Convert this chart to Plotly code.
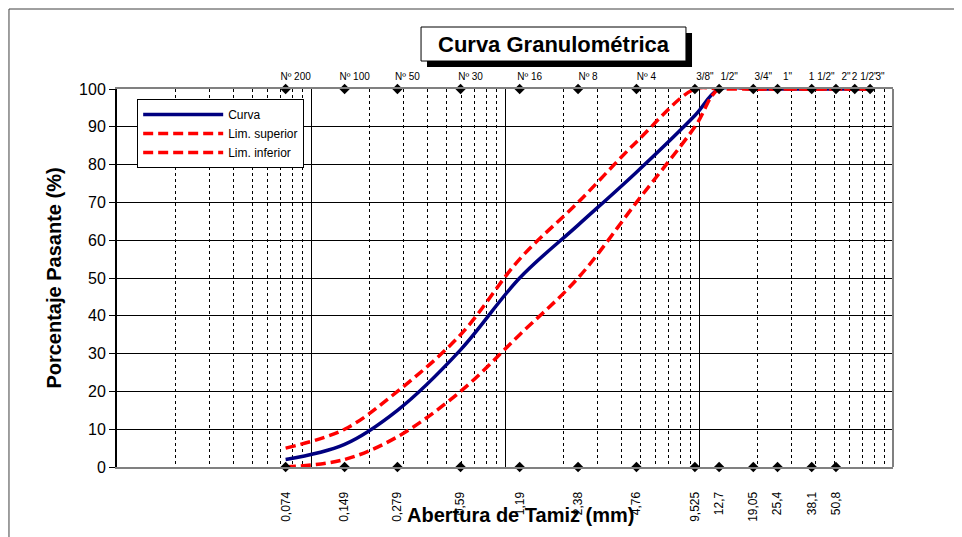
import plotly.graph_objects as go

# Tamices (abertura en mm) y porcentaje que pasa
aberturas = [0.074, 0.149, 0.279, 0.59, 1.19, 2.38, 4.76, 9.525, 12.7, 19.05, 25.4, 38.1, 50.8, 63.5, 76.2]
curva = [2, 6, 15, 31, 50, 64, 78, 93, 100, 100, 100, 100, 100, 100, 100]
lim_superior = [5, 10, 20, 35, 55, 70, 86, 100, 100, 100, 100, 100, 100, 100, 100]
lim_inferior = [0, 2, 8, 20, 35, 50, 70, 90, 100, 100, 100, 100, 100, 100, 100]

# etiquetas de los ejes
tamices_sup = ['Nº 200', 'Nº 100', 'Nº 50', 'Nº 30', 'Nº 16', 'Nº 8', 'Nº 4',
               '3/8"', '1/2"', '3/4"', '1"', '1 1/2"', '2"', '2 1/2"', '3"']
aberturas_inf = aberturas[:13]
etiquetas_inf = ['0,074', '0,149', '0,279', '0,59', '1,19', '2,38', '4,76',
                 '9,525', '12,7', '19,05', '25,4', '38,1', '50,8']
rejilla_menor = [m * 10 ** e for e in (-2, -1, 0, 1) for m in range(2, 10)]

FONT = 'Liberation Sans, Arial, sans-serif'
DASH = '10px,5px'

fig = go.Figure()

fig.add_trace(go.Scatter(x=aberturas, y=curva, name='Curva', mode='lines',
                         line=dict(color='#000080', width=3.5, shape='spline', smoothing=1)))
fig.add_trace(go.Scatter(x=aberturas, y=lim_superior, name='Lim. superior', mode='lines',
                         line=dict(color='#ff0000', width=3.5, dash=DASH, shape='spline', smoothing=1)))
fig.add_trace(go.Scatter(x=aberturas, y=lim_inferior, name='Lim. inferior', mode='lines',
                         line=dict(color='#ff0000', width=3.5, dash=DASH, shape='spline', smoothing=1)))

# rombos sobre los ejes
fig.add_trace(go.Scatter(x=aberturas_inf, y=[0] * len(aberturas_inf), mode='markers',
                         marker=dict(symbol='diamond', size=8, color='black'),
                         cliponaxis=False, showlegend=False, hoverinfo='skip'))
fig.add_trace(go.Scatter(x=aberturas, y=[100] * len(aberturas), mode='markers',
                         marker=dict(symbol='diamond', size=8, color='black'),
                         xaxis='x2', cliponaxis=False, showlegend=False, hoverinfo='skip'))
# eje solo para la rejilla logaritmica
fig.add_trace(go.Scatter(x=[1], y=[50], mode='markers', marker=dict(opacity=0),
                         xaxis='x3', showlegend=False, hoverinfo='skip'))

rango = [-2, 2]
# la pagina tiene 8 px de margen en el body
fig.update_layout(
    width=962, height=537,
    margin=dict(l=109, r=77, t=81, b=78),
    paper_bgcolor='white', plot_bgcolor='white',
    font=dict(family=FONT, color='black'),
    xaxis=dict(type='log', range=rango, tickmode='array', tickvals=aberturas_inf,
               ticktext=etiquetas_inf, tickangle=-90, ticks='', showgrid=False,
               tickfont=dict(size=12), ticklabelstandoff=18,
               showline=True, linecolor='#808080', linewidth=2, zeroline=False),
    xaxis2=dict(type='log', range=rango, overlaying='x', side='top', anchor='y',
                tickmode='array', tickvals=aberturas, ticktext=tamices_sup, ticks='',
                tickangle=0, showgrid=False, tickfont=dict(size=10), ticklabelstandoff=3,
                ticklabelshift=10,
                showline=True, linecolor='#808080', linewidth=2),
    xaxis3=dict(type='log', range=rango, overlaying='x', anchor='y', showticklabels=False,
                ticks='', tickmode='array', tickvals=[0.1, 1, 10],
                showgrid=True, gridcolor='black', gridwidth=1,
                minor=dict(tickmode='array', tickvals=rejilla_menor, showgrid=True,
                           gridcolor='black', gridwidth=1, griddash='dot', ticks='')),
    yaxis=dict(range=[0, 100], dtick=10, ticks='outside', ticklen=6, tickcolor='black',
               showgrid=True, gridcolor='black', gridwidth=1, zeroline=False,
               showline=True, linecolor='black', linewidth=2, tickfont=dict(size=16),
               title=dict(text='<b>Porcentaje Pasante (%)</b>', font=dict(size=20), standoff=12)),
    legend=dict(x=0.026, y=0.9735, xanchor='left', yanchor='top', bgcolor='white',
                bordercolor='black', borderwidth=1, font=dict(size=12), itemwidth=80,
                tracegroupgap=0),
    showlegend=True,
)

# borde derecho del area de trazado y marco exterior
fig.add_shape(type='line', xref='paper', yref='paper', x0=1, x1=1, y0=0, y1=1,
              line=dict(color='#808080', width=2))
fig.add_shape(type='rect', xref='paper', yref='paper', x0=-0.1392, x1=1.0838,
              y0=-0.3, y1=1.2116, line=dict(color='#404040', width=1), layer='above')

# titulo con sombra
fig.add_shape(type='rect', xref='paper', yref='paper', x0=0.3995, x1=0.741,
              y0=1.0582, y1=1.1481, fillcolor='black', line=dict(width=0))
fig.add_shape(type='rect', xref='paper', yref='paper', x0=0.3918, x1=0.7332,
              y0=1.074, y1=1.164, fillcolor='white', line=dict(color='black', width=1))
fig.add_annotation(text='<b>Curva Granulométrica</b>', xref='paper', yref='paper',
                   x=0.5625, y=1.119, xanchor='center', yanchor='middle',
                   showarrow=False, font=dict(size=22))

fig.add_annotation(text='<b>Abertura de Tamiz (mm)</b>', xref='paper', yref='paper',
                   x=0.5205, y=-0.127, xanchor='center', yanchor='middle',
                   showarrow=False, font=dict(size=20))

fig.write_html("out.html")
